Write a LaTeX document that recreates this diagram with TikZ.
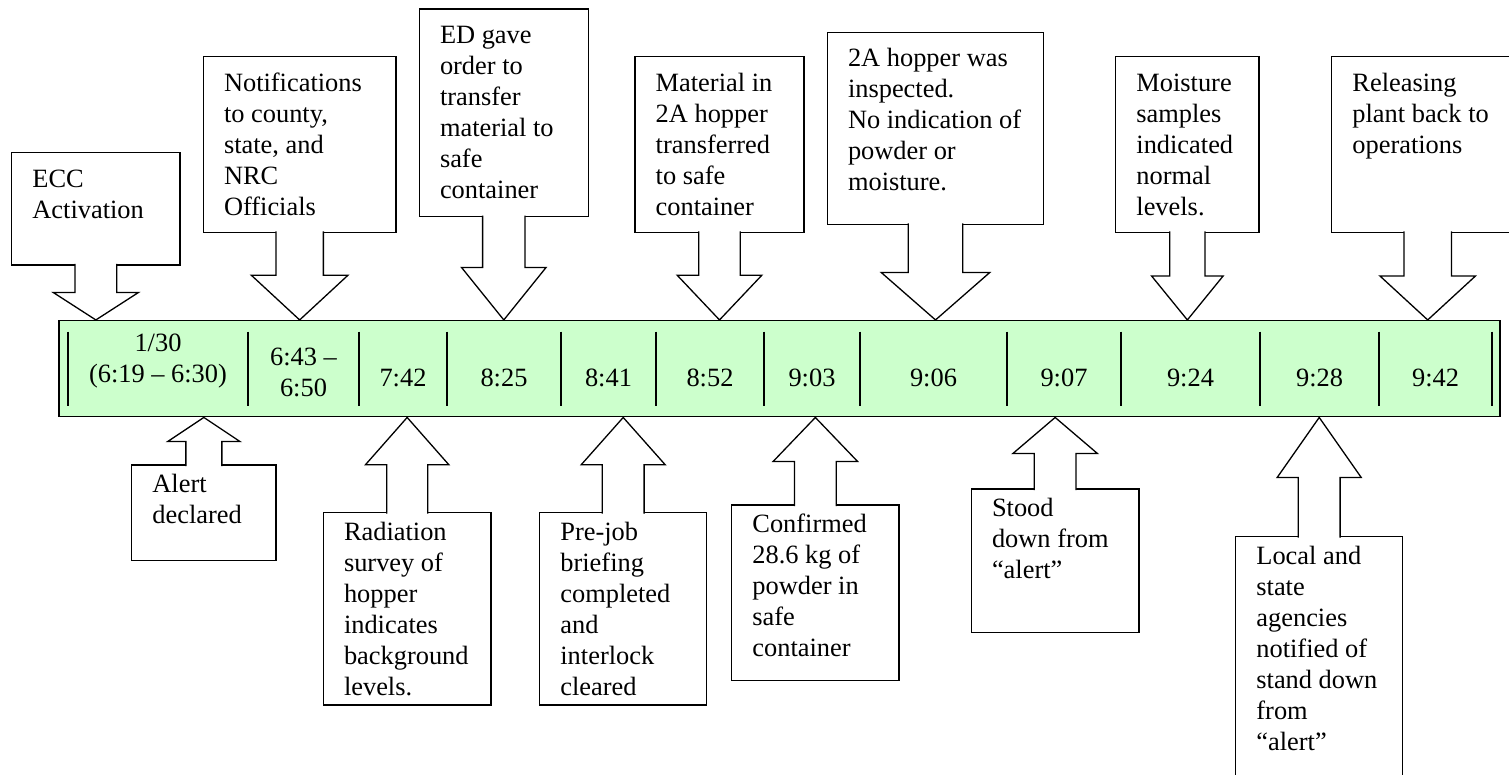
\documentclass[tikz,border=0pt]{standalone}
\usepackage{fontspec}
\setmainfont{Liberation Serif}
\usepackage{tikz}
\usetikzlibrary{calc}
\definecolor{barfill}{HTML}{CCFFCC}
\newcommand{\callfont}{\fontsize{26.4}{31}\selectfont}
\newcommand{\boxtext}[3]{\parbox[t][#2pt][t]{#1pt}{\raggedright\strut #3}}
\newcommand{\pointdown}[4]{%
  \coordinate (#1-tip) at (#1.center |- bar.north);
  \filldraw[callarrow] ($(#1.south)+(-#2,-1)$) -- ($(#1-tip)+(-#2,-#4)$)
    -- ($(#1-tip)+(-#3,-#4)$) -- (#1-tip) -- ($(#1-tip)+(#3,-#4)$)
    -- ($(#1-tip)+(#2,-#4)$) -- ($(#1.south)+(#2,-1)$);}
\newcommand{\pointup}[4]{%
  \coordinate (#1-tip) at (#1.center |- bar.south);
  \filldraw[callarrow] ($(#1.north)+(-#2,1)$) -- ($(#1-tip)+(-#2,#4)$)
    -- ($(#1-tip)+(-#3,#4)$) -- (#1-tip) -- ($(#1-tip)+(#3,#4)$)
    -- ($(#1-tip)+(#2,#4)$) -- ($(#1.north)+(#2,1)$);}

\begin{document}
\begin{tikzpicture}[x=1pt,y=-1pt,
    bar/.style={draw,fill=barfill,line width=1.5pt},
    divider/.style={line width=1.6pt},
    cell/.style={anchor=north,align=center,inner sep=0pt,font=\callfont,execute at begin node=\strut},
    callbox/.style={draw,fill=white,line width=1.3pt,outer sep=0pt,inner xsep=20.7pt,font=\callfont},
    topbox/.style={callbox,inner ysep=12.8pt},
    lowbox/.style={callbox,inner ysep=5.6pt},
    callarrow/.style={fill=white,draw,line width=1.3pt}]
        \useasboundingbox (0,0) rectangle (1509,775);
        \clip (0,0) rectangle (1509,775);
        \node[bar,minimum width=1441pt,minimum height=96pt] (bar) at (779.5,368.7) {};
        \foreach \x in {68,248,359,447,561,656,764,860,1007,1121,1260,1379,1492}
            \draw[divider] (\x,331.7) -- (\x,405.7);
        \node[cell] (t1) at (158,333.3) {1/30\\(6:19 – 6:30)};
        \node[cell] (t2) at (303.5,348.3) {6:43 –\\6:50};
        \node[cell] (t3) at (403,364.3) {7:42};
        \node[cell] (t4) at (504,364.3) {8:25};
        \node[cell] (t5) at (608.5,364.3) {8:41};
        \node[cell] (t6) at (710,364.3) {8:52};
        \node[cell] (t7) at (812,364.3) {9:03};
        \node[cell] (t8) at (933.5,364.3) {9:06};
        \node[cell] (t9) at (1064,364.3) {9:07};
        \node[cell] (t10) at (1190.5,364.3) {9:24};
        \node[cell] (t11) at (1319.5,364.3) {9:28};
        \node[cell] (t12) at (1435.5,364.3) {9:42};

        \node[topbox] (ecc) at (95.85,208.85) {\boxtext{126.9}{86.7}{ECC\\Activation}};
        \node[topbox] (notify) at (299.65,144.5) {\boxtext{151.3}{150}{Notifications\\to county,\\state, and\\NRC\\Officials}};
        \node[topbox] (order) at (503.8,112.85) {\boxtext{127.6}{182.1}{ED gave\\order to\\transfer\\material to\\safe\\container}};
        \node[topbox] (moved) at (719.5,144.5) {\boxtext{127.6}{150}{Material in\\2A hopper\\transferred\\to safe\\container}};
        \node[topbox] (inspect) at (935.5,128.3) {\boxtext{175}{166.4}{2A hopper was\\inspected.\\No indication of\\powder or\\moisture.}};
        \node[topbox] (moist) at (1187.35,144.5) {\boxtext{101.9}{150}{Moisture\\samples\\indicated\\normal\\levels.}};
        \node[topbox] (release) at (1427.7,144.5) {\boxtext{150.6}{150}{Releasing\\plant back to\\operations}};
        \pointdown{ecc}{20.8}{42.5}{27.4}
        \pointdown{notify}{23.7}{48.3}{44.7}
        \pointdown{order}{21.2}{42.2}{52.4}
        \pointdown{moved}{20.8}{42.3}{44.7}
        \pointdown{inspect}{27.2}{54.2}{47.4}
        \pointdown{moist}{17.7}{35.8}{44}
        \pointdown{release}{23.8}{47.8}{44}

        \node[lowbox] (alert) at (203.85,512.85) {\boxtext{102.9}{84.5}{Alert\\declared}};
        \node[lowbox] (survey) at (407.15,608.85) {\boxtext{126.3}{181.1}{Radiation\\survey of\\hopper\\indicates\\background\\levels.}};
        \node[lowbox] (brief) at (623.2,608.85) {\boxtext{125.6}{181.1}{Pre-job\\briefing\\completed\\and\\interlock\\cleared}};
        \node[lowbox] (confirm) at (815.35,592.85) {\boxtext{125.9}{164.5}{Confirmed\\28.6 kg of\\powder in\\safe\\container}};
        \node[lowbox] (stood) at (1055.15,560.65) {\boxtext{126.3}{132.1}{Stood\\down from\\“alert”}};
        \node[lowbox] (local) at (1319.2,663.35) {\boxtext{125.6}{242.1}{Local and\\state\\agencies\\notified of\\stand down\\from\\“alert”}};
        \pointup{alert}{18}{36}{24}
        \pointup{survey}{20.5}{41.7}{47.3}
        \pointup{brief}{20.9}{42}{47.3}
        \pointup{confirm}{20.9}{42.2}{44}
        \pointup{stood}{20.9}{42.2}{36}
        \pointup{local}{20.9}{42}{60}
\end{tikzpicture}
\end{document}
